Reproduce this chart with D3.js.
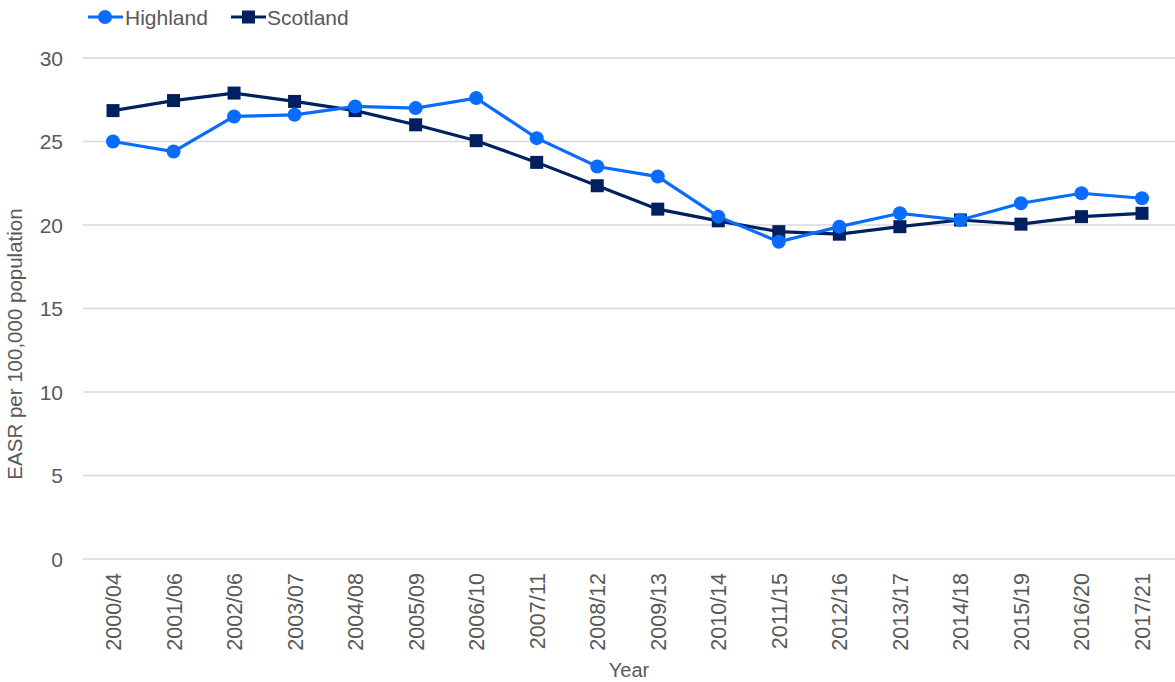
<!DOCTYPE html>
<html lang="en">
<head>
<meta charset="UTF-8">
<title>EASR Highland vs Scotland</title>
<script src="https://d3js.org/d3.v7.min.js"></script>
<style>
  body { margin: 0; background: #fff; }
  text { font-family: "Liberation Sans", Arial, sans-serif; fill: #595959; }
</style>
</head>
<body>
<svg id="chart"></svg>
<script>
    const years = ["2000/04", "2001/06", "2002/06", "2003/07", "2004/08", "2005/09", "2006/10", "2007/11",
        "2008/12", "2009/13", "2010/14", "2011/15", "2012/16", "2013/17", "2014/18", "2015/19", "2016/20", "2017/21"];
    const highland = [25.0, 24.4, 26.5, 26.6, 27.1, 27.0, 27.6, 25.2, 23.5, 22.9, 20.5, 19.0, 19.9, 20.7, 20.3, 21.3, 21.9, 21.6];
    const scotland = [26.85, 27.45, 27.9, 27.4, 26.85, 26.0, 25.05, 23.75, 22.35, 20.95, 20.25, 19.6, 19.45, 19.9, 20.3, 20.05, 20.5, 20.7];
    const yTicks = [0, 5, 10, 15, 20, 25, 30];

    const width = 1175, height = 682;
    const svg = d3.select('#chart').attr('width', width).attr('height', height);

    const plotLeft = 83, plotRight = 1175, plotTop = 58, plotBottom = 559;

    const x = d3.scalePoint().domain(years).range([113, 1142]);
    const y = d3.scaleLinear().domain([0, 30]).range([plotBottom, plotTop]);

    // gridlines
    svg.append('g').selectAll('line').data(yTicks).join('line')
        .attr('x1', plotLeft).attr('x2', plotRight)
        .attr('y1', d => y(d)).attr('y2', d => y(d))
        .attr('stroke', '#d9d9d9').attr('stroke-width', 1.3);

    // y axis labels
    svg.append('g').selectAll('text').data(yTicks).join('text')
        .attr('x', 63).attr('y', d => y(d) + 7.5)
        .attr('text-anchor', 'end').attr('font-size', 21)
        .text(d => d);

    // x axis labels
    svg.append('g').selectAll('text').data(years).join('text')
        .attr('transform', d => `translate(${x(d) + 8},573) rotate(-90)`)
        .attr('text-anchor', 'end').attr('font-size', 21.5)
        .text(d => d);

    svg.append('text').attr('x', 629).attr('y', 677).attr('text-anchor', 'middle')
        .attr('font-size', 20).text('Year');
    svg.append('text').attr('transform', 'translate(22,344) rotate(-90)')
        .attr('text-anchor', 'middle').attr('font-size', 20.5).text('EASR per 100,000 population');

    const line = d3.line().x((d, i) => x(years[i])).y(d => y(d));

    const hlCol = '#0a6cff', scCol = '#002060';

    // Scotland
    svg.append('path').datum(scotland).attr('d', line)
        .attr('fill', 'none').attr('stroke', scCol).attr('stroke-width', 3.2);
    // Highland
    svg.append('path').datum(highland).attr('d', line)
        .attr('fill', 'none').attr('stroke', hlCol).attr('stroke-width', 3.2);

    svg.append('g').selectAll('rect').data(scotland).join('rect')
        .attr('x', (d, i) => x(years[i]) - 6.5).attr('y', d => y(d) - 6.5)
        .attr('width', 13).attr('height', 13).attr('fill', scCol);

    svg.append('g').selectAll('circle').data(highland).join('circle')
        .attr('cx', (d, i) => x(years[i])).attr('cy', d => y(d))
        .attr('r', 7).attr('fill', hlCol);

    // legend
    const lg = svg.append('g');
    lg.append('line').attr('x1', 88).attr('x2', 123).attr('y1', 17).attr('y2', 17)
        .attr('stroke', hlCol).attr('stroke-width', 3.2);
    lg.append('circle').attr('cx', 105).attr('cy', 17).attr('r', 7).attr('fill', hlCol);
    lg.append('text').attr('x', 125).attr('y', 25).attr('font-size', 21).text('Highland');
    lg.append('line').attr('x1', 231).attr('x2', 266).attr('y1', 17).attr('y2', 17)
        .attr('stroke', scCol).attr('stroke-width', 3.2);
    lg.append('rect').attr('x', 242).attr('y', 10.5).attr('width', 13).attr('height', 13).attr('fill', scCol);
    lg.append('text').attr('x', 267).attr('y', 25).attr('font-size', 21).text('Scotland');
</script>
</body>
</html>
